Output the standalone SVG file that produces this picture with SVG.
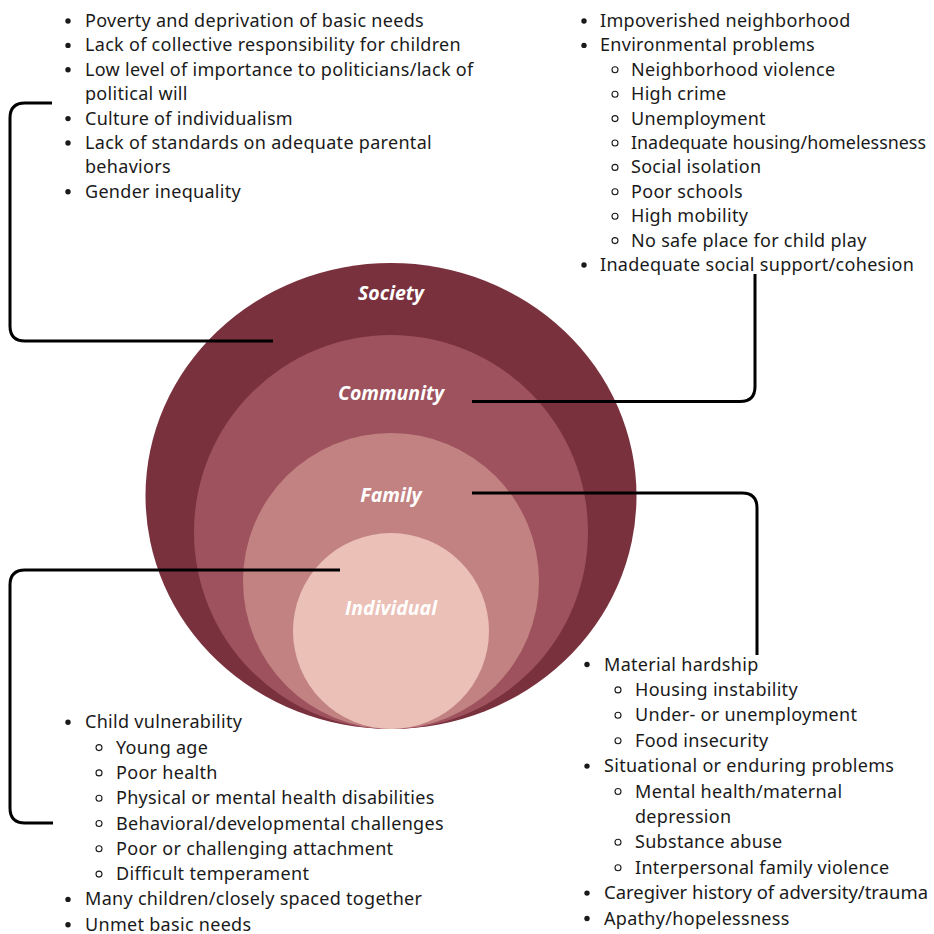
<svg xmlns="http://www.w3.org/2000/svg" width="934" height="934" viewBox="0 0 934 934">
  <style>
    .list { font-family: "Noto Sans", "Open Sans", sans-serif; font-size: 18px; letter-spacing: 0.3px; fill: #1a1a1a; }
    .tight { letter-spacing: 0; }
    .lvl { font-family: "Open Sans", "Noto Sans", sans-serif; font-size: 19.5px; font-weight: 700; font-style: italic; fill: #ffffff; text-anchor: middle; }
    .dot { fill: #1a1a1a; }
    .ring { fill: none; stroke: #1a1a1a; stroke-width: 1.1; }
    .link { fill: none; stroke: #000000; stroke-width: 3; stroke-linecap: butt; stroke-linejoin: round; }
  </style>
  <defs>
    <circle id="b1" r="2.7" class="dot"/>
    <circle id="b2" r="3" class="ring"/>
  </defs>
  <rect width="934" height="934" fill="#ffffff"/>

  <!-- nested level discs -->
  <g id="society">
    <ellipse cx="391" cy="496" rx="245.5" ry="233" fill="#7a313e"/>
    <text class="lvl" x="391" y="300">Society</text>
  </g>
  <g id="community">
    <circle cx="391" cy="532" r="197" fill="#9d525d"/>
    <text class="lvl" x="391" y="400">Community</text>
  </g>
  <g id="family">
    <circle cx="391" cy="581" r="148" fill="#c38282"/>
    <text class="lvl" x="391" y="502">Family</text>
  </g>
  <g id="individual">
    <circle cx="391" cy="631" r="98" fill="#ebc0b7"/>
    <text class="lvl" x="391" y="615">Individual</text>
  </g>

  <!-- connectors -->
  <g id="connectors">
    <path class="link" d="M273 341 H25 Q10 341 10 326 V118 Q10 103 25 103 H52"/>
    <path class="link" d="M472 401.5 H740 Q755 401.5 755 386.5 V274"/>
    <path class="link" d="M472 493 H742 Q757 493 757 508 V655"/>
    <path class="link" d="M340 570 H25 Q10 570 10 585 V808 Q10 823 25 823 H53"/>
  </g>

  <!-- society factors -->
  <g id="society-list" class="list">
    <use href="#b1" x="68" y="21"/><text x="85" y="27">Poverty and deprivation of basic needs</text>
    <use href="#b1" x="68" y="45.4"/><text x="85" y="51.4">Lack of collective responsibility for children</text>
    <use href="#b1" x="68" y="69.8"/><text x="85" y="75.8">Low level of importance to politicians/lack of</text>
    <text x="85" y="100.2">political will</text>
    <use href="#b1" x="68" y="118.6"/><text x="85" y="124.6">Culture of individualism</text>
    <use href="#b1" x="68" y="143"/><text x="85" y="149">Lack of standards on adequate parental</text>
    <text x="85" y="173.4">behaviors</text>
    <use href="#b1" x="68" y="191.8"/><text x="85" y="197.8">Gender inequality</text>
  </g>

  <!-- community factors -->
  <g id="community-list" class="list">
    <use href="#b1" x="584" y="21"/><text x="600" y="27">Impoverished neighborhood</text>
    <use href="#b1" x="584" y="45.4"/><text x="600" y="51.4">Environmental problems</text>
    <use href="#b2" x="615" y="69.8"/><text x="631" y="75.8">Neighborhood violence</text>
    <use href="#b2" x="615" y="94.2"/><text x="631" y="100.2">High crime</text>
    <use href="#b2" x="615" y="118.6"/><text x="631" y="124.6">Unemployment</text>
    <use href="#b2" x="615" y="143"/><text class="tight" x="631" y="149" textLength="295" lengthAdjust="spacingAndGlyphs">Inadequate housing/homelessness</text>
    <use href="#b2" x="615" y="167.4"/><text x="631" y="173.4">Social isolation</text>
    <use href="#b2" x="615" y="191.8"/><text x="631" y="197.8">Poor schools</text>
    <use href="#b2" x="615" y="216.2"/><text x="631" y="222.2">High mobility</text>
    <use href="#b2" x="615" y="240.6"/><text x="631" y="246.6">No safe place for child play</text>
    <use href="#b1" x="584" y="265"/><text x="600" y="271">Inadequate social support/cohesion</text>
  </g>

  <!-- family factors -->
  <g id="family-list" class="list">
    <use href="#b1" x="587" y="664.5"/><text x="604" y="670.5">Material hardship</text>
    <use href="#b2" x="618" y="689.9"/><text x="635" y="695.9">Housing instability</text>
    <use href="#b2" x="618" y="715.3"/><text x="635" y="721.3">Under- or unemployment</text>
    <use href="#b2" x="618" y="740.7"/><text x="635" y="746.7">Food insecurity</text>
    <use href="#b1" x="587" y="766.1"/><text x="604" y="772.1">Situational or enduring problems</text>
    <use href="#b2" x="618" y="791.5"/><text x="635" y="797.5">Mental health/maternal</text>
    <text x="635" y="822.9">depression</text>
    <use href="#b2" x="618" y="842.3"/><text x="635" y="848.3">Substance abuse</text>
    <use href="#b2" x="618" y="867.7"/><text x="635" y="873.7">Interpersonal family violence</text>
    <use href="#b1" x="587" y="893.1"/><text class="tight" x="604" y="899.1" textLength="324" lengthAdjust="spacingAndGlyphs">Caregiver history of adversity/trauma</text>
    <use href="#b1" x="587" y="918.5"/><text x="604" y="924.5">Apathy/hopelessness</text>
  </g>

  <!-- individual factors -->
  <g id="individual-list" class="list">
    <use href="#b1" x="68" y="722.3"/><text x="85" y="728.3">Child vulnerability</text>
    <use href="#b2" x="99" y="747.6"/><text x="116" y="753.6">Young age</text>
    <use href="#b2" x="99" y="772.9"/><text x="116" y="778.9">Poor health</text>
    <use href="#b2" x="99" y="798.2"/><text x="116" y="804.2">Physical or mental health disabilities</text>
    <use href="#b2" x="99" y="823.5"/><text x="116" y="829.5">Behavioral/developmental challenges</text>
    <use href="#b2" x="99" y="848.8"/><text x="116" y="854.8">Poor or challenging attachment</text>
    <use href="#b2" x="99" y="874.1"/><text x="116" y="880.1">Difficult temperament</text>
    <use href="#b1" x="68" y="899.4"/><text x="85" y="905.4">Many children/closely spaced together</text>
    <use href="#b1" x="68" y="924.7"/><text x="85" y="930.7">Unmet basic needs</text>
  </g>
</svg>
